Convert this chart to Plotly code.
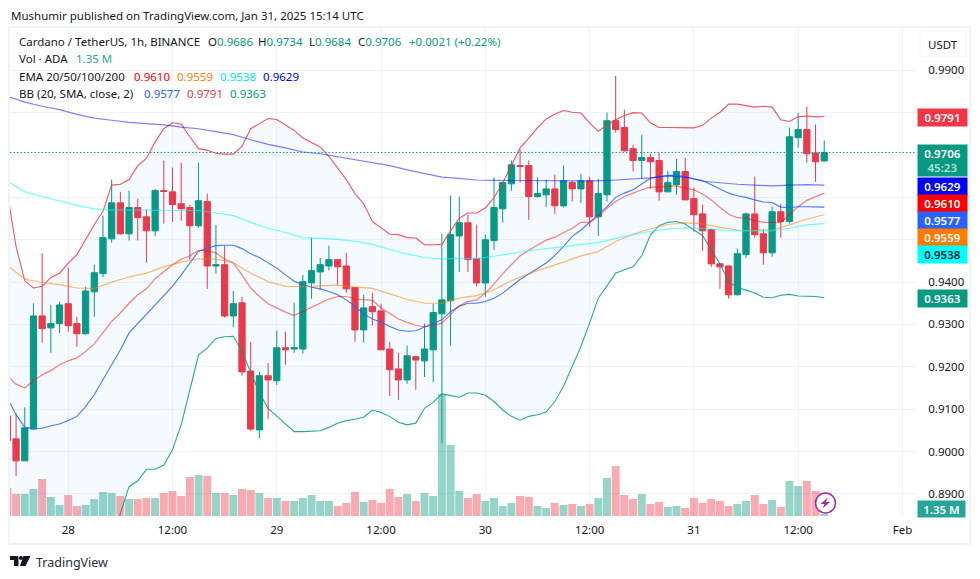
import plotly.graph_objects as go

# ---------- data ----------
hours = list(range(-7, 88))
opens = [.9084,.9030,.8978,.9053,.9320,.9292,.9302,.9349,.9302,.9278,.9377,.9420,.9502,.9587,.9514,.9576,.9554,.9521,.9616,.9613,.9585,.9576,.9533,.9590,.9438,.9441,.9320,.9351,.9190,.9051,.9179,.9167,.9245,.9242,
 .9242,.9398,.9424,.9438,.9453,.9438,.9387,.9287,.9342,.9332,.9242,.9195,.9169,.9224,.9214,.9240,.9325,.9356,.9509,.9540,.9455,.9398,.9498,.9573,.9632,.9675,.9675,.9602,.9606,.9620,.9580,.9635,.9620,.9639,.9554,.9606,.9781,.9765,.9715,.9687,.9694,.9687,.9613,.9630,.9661,.9597,.9561,.9524,.9443,.9438,.9370,.9465,.9561,.9514,.9469,.9566,.9543,.9741,.9760,.9705,.9686]
highs = [.9084,.9090,.9104,.9350,.9468,.9346,.9354,.9434,.9318,.9389,.9441,.9557,.9642,.9613,.9616,.9597,.9571,.9620,.9687,.9670,.9682,.9583,.9682,.9609,.9535,.9486,.9379,.9365,.9259,.9188,.9209,.9285,.9283,.9351,
 .9417,.9505,.9457,.9486,.9453,.9469,.9387,.9370,.9375,.9349,.9259,.9233,.9250,.9226,.9302,.9349,.9514,.9604,.9602,.9559,.9535,.9512,.9647,.9635,.9687,.9713,.9687,.9647,.9642,.9654,.9675,.9639,.9656,.9649,.9644,.9800,.9887,.9807,.9724,.9748,.9703,.9705,.9663,.9691,.9694,.9623,.9583,.9526,.9443,.9438,.9479,.9564,.9649,.9524,.9578,.9585,.9765,.9800,.9814,.9772,.9734]
lows = [.9026,.8942,.8978,.9053,.9257,.9233,.9280,.9283,.9247,.9276,.9318,.9412,.9493,.9512,.9498,.9498,.9446,.9509,.9538,.9542,.9545,.9453,.9528,.9384,.9420,.9316,.9294,.9179,.9049,.9032,.9077,.9157,.9205,.9233,
 .9231,.9361,.9382,.9427,.9394,.9375,.9259,.9257,.9297,.9240,.9131,.9122,.9160,.9146,.9176,.9164,.9020,.9250,.9424,.9424,.9389,.9365,.9476,.9540,.9616,.9635,.9547,.9599,.9578,.9561,.9576,.9590,.9587,.9531,.9509,.9590,.9753,.9708,.9661,.9644,.9620,.9592,.9613,.9606,.9594,.9519,.9474,.9436,.9384,.9361,.9368,.9457,.9505,.9441,.9460,.9505,.9538,.9717,.9682,.9637,.9684]
closes = [.9026,.8978,.9056,.9320,.9290,.9302,.9346,.9297,.9278,.9379,.9422,.9505,.9587,.9514,.9576,.9552,.9521,.9616,.9614,.9583,.9573,.9533,.9592,.9438,.9441,.9320,.9349,.9188,.9053,.9179,.9169,.9245,.9240,.9245,
 .9401,.9427,.9441,.9453,.9436,.9384,.9287,.9339,.9330,.9240,.9193,.9169,.9226,.9216,.9242,.9328,.9358,.9512,.9540,.9453,.9398,.9500,.9576,.9635,.9677,.9673,.9602,.9609,.9620,.9580,.9639,.9620,.9639,.9554,.9609,.9781,.9760,.9710,.9687,.9694,.9684,.9613,.9635,.9661,.9594,.9559,.9521,.9443,.9436,.9370,.9467,.9561,.9512,.9469,.9566,.9543,.9743,.9760,.9703,.9684,.9706]
volume_m = [19.6,15.4,15.4,18.9,25.9,13.3,7.7,14.7,7.0,7.7,11.9,16.8,16.1,14.0,11.9,11.9,12.6,12.6,16.1,17.5,14.0,27.3,28.7,28.0,16.1,16.1,14.7,18.9,18.2,16.1,12.6,12.6,10.5,10.5,
 12.6,14.7,10.5,10.5,7.0,9.1,16.8,9.8,11.2,9.1,18.9,13.3,15.4,10.5,16.1,14.0,85.4,49.7,17.5,12.6,15.4,10.5,12.6,7.0,9.1,14.0,13.3,7.0,5.6,9.1,7.7,8.4,7.0,8.4,12.6,26.6,35.0,14.7,11.9,15.4,8.4,9.8,6.3,7.0,5.6,12.6,9.1,11.9,10.5,7.0,8.4,10.5,14.7,8.4,11.2,6.3,24.5,21.0,24.5,17.5,1.35]

bb_upper = [.9610,.9484,.9403,.9386,.9390,.9411,.9421,.9445,.9465,.9500,.9536,.9567,.9629,.9631,.9642,.9675,.9692,.9731,.9762,.9776,.9773,.9743,.9715,.9711,.9704,.9702,.9702,.9721,.9762,.9774,.9786,.9784,.9772,.9758,
 .9740,.9729,.9719,.9697,.9670,.9642,.9609,.9585,.9543,.9528,.9513,.9512,.9505,.9504,.9488,.9488,.9489,.9521,.9551,.9563,.9563,.9575,.9599,.9634,.9677,.9717,.9740,.9764,.9785,.9797,.9805,.9801,.9799,.9776,.9756,.9771,.9783,.9793,.9800,.9799,.9776,.9765,.9765,.9765,.9764,.9764,.9770,.9787,.9801,.9820,.9820,.9817,.9813,.9815,.9813,.9783,.9779,.9790,.9792,.9790,.9791]
bb_lower = [.8640,.8690,.8711,.8720,.8720,.8711,.8709,.8701,.8701,.8712,.8732,.8771,.8777,.8854,.8917,.8931,.8958,.8958,.8968,.9004,.9063,.9146,.9228,.9244,.9267,.9271,.9272,.9236,.9189,.9138,.9102,.9083,.9065,.9047,
 .9047,.9048,.9049,.9057,.9067,.9073,.9076,.9081,.9098,.9092,.9083,.9069,.9063,.9067,.9102,.9116,.9136,.9132,.9128,.9138,.9138,.9133,.9118,.9098,.9083,.9074,.9083,.9087,.9093,.9118,.9154,.9201,.9248,.9303,.9362,.9391,.9421,.9429,.9436,.9462,.9511,.9533,.9541,.9543,.9537,.9523,.9510,.9476,.9443,.9401,.9387,.9381,.9374,.9364,.9363,.9369,.9371,.9367,.9366,.9366,.9363]
bb_basis = [.9126,.9087,.9057,.9054,.9055,.9061,.9065,.9073,.9083,.9106,.9134,.9169,.9203,.9240,.9280,.9302,.9323,.9344,.9366,.9390,.9417,.9445,.9473,.9480,.9486,.9487,.9487,.9479,.9467,.9458,.9445,.9433,.9417,.9402,
 .9394,.9388,.9384,.9378,.9370,.9358,.9343,.9325,.9313,.9305,.9295,.9287,.9284,.9285,.9294,.9302,.9311,.9330,.9343,.9350,.9350,.9354,.9362,.9374,.9390,.9406,.9419,.9432,.9445,.9463,.9484,.9508,.9523,.9541,.9560,.9578,.9600,.9610,.9618,.9631,.9645,.9649,.9652,.9652,.9649,.9644,.9640,.9630,.9619,.9610,.9604,.9600,.9594,.9589,.9588,.9577,.9576,.9578,.9578,.9578,.9577]
ema20 = [.9179,.9159,.9150,.9167,.9181,.9191,.9205,.9214,.9221,.9236,.9254,.9280,.9307,.9327,.9350,.9370,.9384,.9408,.9425,.9441,.9454,.9462,.9475,.9474,.9469,.9454,.9445,.9417,.9386,.9366,.9349,.9339,.9329,.9321,
 .9331,.9341,.9350,.9360,.9366,.9366,.9360,.9358,.9357,.9339,.9327,.9313,.9305,.9298,.9294,.9298,.9303,.9323,.9344,.9354,.9358,.9374,.9395,.9420,.9441,.9462,.9475,.9487,.9499,.9506,.9517,.9527,.9541,.9541,.9555,.9574,.9590,.9602,.9610,.9618,.9624,.9624,.9626,.9627,.9622,.9618,.9608,.9594,.9576,.9560,.9552,.9551,.9545,.9541,.9541,.9541,.9559,.9578,.9593,.9602,.9610]

ema_hours = list(range(-7, 88, 2))
ema50 = [.9439,.9407,.9399,.9394,.9386,.9385,.9400,.9412,.9421,.9436,.9447,.9455,.9454,.9445,.9421,.9401,.9390,.9389,.9391,.9393,.9388,.9385,.9372,.9359,.9350,.9350,.9362,.9368,.9382,.9403,.9420,.9433,.9447,.9462,.9472,.9496,.9513,.9526,.9536,.9540,.9538,.9529,.9523,.9522,.9523,.9535,.9549,.9559]
ema100 = [.9638,.9613,.9602,.9592,.9581,.9573,.9570,.9570,.9570,.9570,.9570,.9569,.9563,.9557,.9541,.9527,.9517,.9505,.9503,.9501,.9496,.9489,.9477,.9466,.9458,.9454,.9456,.9456,.9461,.9468,.9474,.9479,.9484,.9488,.9493,.9503,.9511,.9520,.9525,.9528,.9527,.9523,.9521,.9521,.9521,.9527,.9535,.9538]
ema200 = [.9839,.9825,.9815,.9807,.9796,.9787,.9782,.9777,.9774,.9771,.9766,.9762,.9755,.9748,.9736,.9725,.9717,.9707,.9703,.9696,.9689,.9683,.9675,.9665,.9656,.9648,.9645,.9641,.9640,.9640,.9639,.9639,.9639,.9639,.9639,.9641,.9643,.9646,.9650,.9648,.9638,.9634,.9631,.9629,.9627,.9629,.9630,.9629]

time_ticks = [0, 12, 24, 36, 48, 60, 72, 84, 96]
time_labels = ["28", "12:00", "29", "12:00", "30", "12:00", "31", "12:00", "Feb"]
price_ticks = [.89, .90, .91, .92, .93, .94, .95, .96, .97, .98, .99]
price_labels = ["0.8900", "0.9000", "0.9100", "0.9200", "0.9300", "0.9400", "", "", "", "", "0.9900"]

# ---------- styling ----------
GREEN, RED, INK = "#089981", "#F23645", "#131722"
FONT = "Noto Sans"
FS = 11.5
W, H = 980, 579
L, R, T, B = 10, 916, 28, 516

def xp(px): return (px - L) / (R - L)
def yp(py): return (B - py) / (B - T)

fig = go.Figure()

bar_colors = ["rgba(8,153,129,0.42)" if c >= o else "rgba(242,54,69,0.42)" for o, c in zip(opens, closes)]
fig.add_trace(go.Bar(x=hours, y=volume_m, marker=dict(color=bar_colors, line_width=0), yaxis="y", hoverinfo="skip"))

def line(x, y, color, width=1.1, **kw):
    fig.add_trace(go.Scatter(x=x, y=y, mode="lines", yaxis="y2", hoverinfo="skip",
                             line=dict(color=color, width=width), **kw))

line(hours, bb_upper, "rgba(242,54,69,0.85)")
line(hours, bb_lower, "rgba(8,153,129,0.85)", fill="tonexty", fillcolor="rgba(33,150,243,0.05)")
line(hours, bb_basis, "rgba(41,98,255,0.85)")
line(hours, ema20, "rgba(255,0,0,0.5)", 1.2)
line(ema_hours, ema50, "rgba(255,128,0,0.55)", 1.2)
line(ema_hours, ema100, "rgba(0,255,255,0.55)", 1.2)
line(ema_hours, ema200, "rgba(0,0,255,0.5)", 1.2)

fig.add_trace(go.Candlestick(x=hours, open=opens, high=highs, low=lows, close=closes, yaxis="y2",
    whiskerwidth=0, hoverinfo="skip",
    increasing=dict(line=dict(color=GREEN, width=1), fillcolor=GREEN),
    decreasing=dict(line=dict(color=RED, width=1), fillcolor=RED)))

# ---------- annotations ----------
ann = []
def text(px, py, s, color=INK, size=FS, xanchor="left", **kw):
    ann.append(dict(x=xp(px), y=yp(py), xref="paper", yref="paper", text=s, showarrow=False,
                    xanchor=xanchor, yanchor="middle", align="left",
                    font=dict(family=FONT, size=size, color=color), borderpad=0, **kw))

def label(top, bottom, s, bg, color="#ffffff", left=917, right=966):
    ann.append(dict(x=xp(left), y=yp(top), xref="paper", yref="paper", text=s, showarrow=False,
                    xanchor="left", yanchor="top", align="center", valign="middle",
                    width=right - left, height=bottom - top, bgcolor=bg, borderpad=0,
                    font=dict(family=FONT, size=FS, color=color, weight=600)))

text(10, 15, "Mushumir published on TradingView.com, Jan 31, 2025 15:14 UTC")
text(18, 42, "Cardano / TetherUS, 1h, BINANCE")
for px, head, val in [(207, "O", "%.4f" % opens[-1]), (257, "H", "%.4f" % highs[-1]),
                      (308, "L", "%.4f" % lows[-1]), (357, "C", "%.4f" % closes[-1])]:
    text(px, 42, head + "<span style='color:%s'>%s</span>" % (GREEN, val))
text(408, 42, "+0.0021 (+0.22%)", GREEN)
text(18, 59, "Vol · ADA")
text(75, 59, "1.35 M", "#26a69a")
text(18, 76, "EMA 20/50/100/200")
for px, c, v in [(133, "#ff0000", ema20[-1]), (176, "#ff8000", ema50[-1]), (219, "#00e5e5", ema100[-1]), (262, "#0000ff", ema200[-1])]:
    text(px, 76, "%.4f" % v, c)
text(18, 93, "BB (20, SMA, close, 2)")
for px, c, v in [(143, "#2962ff", bb_basis[-1]), (186, RED, bb_upper[-1]), (229, GREEN, bb_lower[-1])]:
    text(px, 93, "%.4f" % v, c)

text(943, 44, "USDT", xanchor="center")
label(108, 125, "%.4f" % bb_upper[-1], RED)
label(144, 175, "%.4f<br><span style='color:#b5e0d8'>45:23</span>" % closes[-1], GREEN)
label(177, 194, "%.4f" % ema200[-1], "#0000ff")
label(194, 211, "%.4f" % ema20[-1], "#ff0000")
label(211, 228, "%.4f" % bb_basis[-1], "#2962ff")
label(228, 245, "%.4f" % ema50[-1], "#ff7b00")
label(245, 262, "%.4f" % ema100[-1], "#00ffff", INK)
label(289, 306, "%.4f" % bb_lower[-1], GREEN)
label(500, 516, "1.35 M", "#26a69a", right=964)
text(35, 562, "TradingView", "#2a2e39", 12.5)

# ---------- shapes ----------
def poly(points, color):
    path = "M" + " L".join("%.5f,%.5f" % (xp(a), yp(b)) for a, b in points) + " Z"
    return dict(type="path", xref="paper", yref="paper", path=path, fillcolor=color, line_width=0)

shapes = [
    dict(type="line", xref="paper", yref="y2", x0=0, x1=1, y0=closes[-1], y1=closes[-1],
         line=dict(color=GREEN, width=1, dash="1.5px,2px")),
    dict(type="rect", xref="paper", yref="paper", x0=xp(9), x1=xp(970), y0=yp(27), y1=yp(544),
         line=dict(color="#f0f3fa", width=2), layer="above"),
    dict(type="rect", xref="paper", yref="paper", x0=xp(920), x1=xp(966), y0=yp(31), y1=yp(57),
         line=dict(color="#f0f3fa", width=1), fillcolor="#ffffff"),
    dict(type="circle", xref="paper", yref="paper", x0=xp(815.5), x1=xp(835.5), y0=yp(493), y1=yp(513),
         line=dict(color="#9c27b0", width=1.5), fillcolor="#ffffff"),
    poly([(828, 497.5), (820.5, 504), (824.5, 504), (822.5, 508.5), (830, 502), (825.8, 502)], "#9c27b0"),
    poly([(10, 556), (18.5, 556), (18.5, 566), (14, 566), (14, 560), (10, 560)], INK),
    poly([(23.5, 556), (30.5, 556), (25.5, 566), (20, 566)], INK),
    dict(type="circle", xref="paper", yref="paper", x0=xp(19), x1=xp(23), y0=yp(556), y1=yp(560),
         fillcolor=INK, line_width=0),
]

fig.update_layout(
    width=W, height=H, autosize=False, showlegend=False,
    margin=dict(l=L, r=W - R, t=T, b=H - B, pad=0),
    paper_bgcolor="#ffffff", plot_bgcolor="#ffffff", bargap=0.08, boxgap=0.28, boxgroupgap=0,
    font=dict(family=FONT, size=FS, color=INK),
    xaxis=dict(range=[-6.70, 97.56], tickmode="array", tickvals=time_ticks, ticktext=time_labels,
               showgrid=True, gridcolor="#f0f3fa", gridwidth=1, zeroline=False, showline=False,
               ticks="outside", ticklen=3, tickcolor="#ffffff", rangeslider=dict(visible=False),
               tickfont=dict(family=FONT, size=FS, color=INK)),
    yaxis=dict(range=[0, 341.6], visible=False, fixedrange=True),
    yaxis2=dict(range=[.88478, .99998], overlaying="y", side="right", tickmode="array",
                tickvals=price_ticks, ticktext=price_labels, showgrid=True, gridcolor="#f0f3fa",
                gridwidth=1, zeroline=False, showline=False, ticks="outside", ticklen=9,
                tickcolor="#ffffff", tickfont=dict(family=FONT, size=FS, color=INK)),
    annotations=ann, shapes=shapes,
)

fig.write_html("out.html", config=dict(displayModeBar=False),
               post_script="document.body.style.margin='0';document.body.style.overflow='hidden';")
